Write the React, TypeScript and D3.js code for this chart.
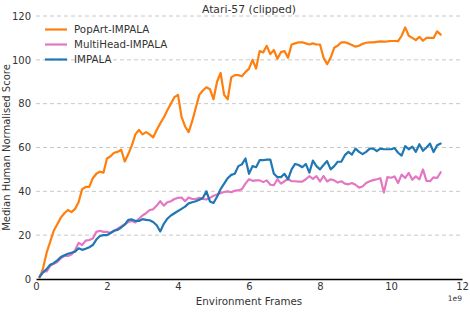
import { useEffect, useRef } from "react";
import * as d3 from "d3";

// environment frames, in units of 1e9
const frames: number[] = d3.range(1, 115).map((i) => i / 10);

const popArtScores: number[] = [
  0.5, 5, 12, 17, 22, 25, 28, 30, 31.5, 30.5,
  32, 35, 41, 42, 42, 46, 48, 49, 48.5, 55,
  56, 57.6, 58, 59, 53.6, 57, 61, 66, 68, 66,
  67, 66, 64.6, 68, 71, 73.7, 77, 80, 83, 84,
  74, 69.6, 67, 72, 78, 84, 86, 87.5, 86.6, 82,
  90, 94, 84, 82, 92, 93, 93, 92.5, 94.4, 96,
  100, 96, 104, 103.4, 106.4, 102.6, 104.5, 100.5, 103.5, 104,
  101, 107, 107.5, 108, 108, 107.5, 107, 107.5, 107, 107,
  101, 98, 101, 105.5, 106.5, 108, 108, 107.5, 106.8, 106,
  106.4, 107.3, 107.8, 108, 108, 108.2, 108.4, 108.3, 108.4, 108.6,
  108.6, 108.5, 111, 114.8, 111, 110, 109, 110.5, 108.7, 110,
  110, 110, 113, 111.5,
];

const multiHeadScores: number[] = [
  1, 3.5, 3.5, 6, 7, 7.8, 9.5, 10.5, 10.5, 11.2,
  13, 16.5, 15.5, 17.5, 17.8, 18.5, 21.5, 22, 21.5, 21.5,
  21, 22, 23, 24, 25, 26, 26.5, 25.8, 27.5, 29,
  30, 31.5, 31.8, 33.5, 35.5, 33.5, 35, 35.5, 36.5, 37,
  37.2, 35.5, 37.2, 36.5, 36.5, 37, 36.5, 36.3, 37, 38,
  38.5, 39.2, 39.7, 40, 39.6, 40.3, 40.4, 41, 43.5, 45.5,
  44.8, 45, 45, 44.2, 45, 43, 42.8, 45.5, 43.5, 44.6,
  45.7, 44.6, 44.6, 44.4, 44.4, 45.5, 46.9, 45.7, 46.9, 44.5,
  47, 44.5, 45.5, 45, 44, 44.6, 43.5, 43.2, 43.8, 43,
  41.7, 42.2, 43.8, 44.6, 45.1, 45.5, 46, 39.5, 46.5, 46.2,
  46.8, 43.8, 47.6, 46.1, 48.4, 45.3, 46.8, 45.5, 50, 44.8,
  44.6, 46.4, 46.1, 48.7,
];

const impalaScores: number[] = [
  1, 3, 4.5, 6.5, 7.2, 8.5, 10, 10.8, 11.5, 12,
  12.5, 14, 13.3, 13.8, 14.5, 15.5, 18, 19.6, 20, 20,
  21, 22, 22.4, 23.5, 24.8, 27, 27.2, 26.5, 26.5, 27.3,
  27, 26.8, 26, 24.5, 21.7, 25.2, 27.5, 29, 30, 31,
  32, 33, 34.5, 35, 35.5, 36.2, 37, 40, 35.4, 34.7,
  37.5, 41, 43.5, 46, 47.5, 48, 51.5, 52.3, 55, 48,
  51.5, 51, 54.2, 54.2, 54.5, 54.5, 48, 46.5, 46.5, 48,
  45.5, 50, 52.5, 52, 51, 52.5, 48.5, 54, 51.5, 50,
  52, 53.8, 50, 51.5, 53.5, 53.5, 56.5, 58, 56.8, 59.5,
  58, 57, 58, 59.5, 59.5, 58.3, 59.5, 59.2, 59.2, 59.2,
  59.7, 57.6, 56.3, 60.6, 59.2, 60.4, 58, 61.5, 58.5, 60,
  61.8, 57.9, 61, 61.8,
];

const seriesNames = ["PopArt-IMPALA", "MultiHead-IMPALA", "IMPALA"];
const seriesColors = ["#ff7f0e", "#e377c2", "#1f77b4"];
const xTicks = [0, 2, 4, 6, 8, 10, 12];
const yTicks = [0, 20, 40, 60, 80, 100, 120];

const WIDTH = 470;
const HEIGHT = 312;
const FONT = "DejaVu Sans, sans-serif";
const TEXT = "#333";

const App = () => {
  const svgRef = useRef<SVGSVGElement | null>(null);

  useEffect(() => {
    const margin = { top: 16, right: 8, bottom: 33, left: 36 };
    const x = d3.scaleLinear().domain([0, 12]).range([margin.left, WIDTH - margin.right]);
    const y = d3.scaleLinear().domain([0, 120]).range([HEIGHT - margin.bottom, margin.top]);

    const svg = d3.select(svgRef.current);
    svg.selectAll("*").remove();

    svg.append("rect").attr("width", WIDTH).attr("height", HEIGHT).attr("fill", "#fff");

    // dashed horizontal grid
    svg
      .append("g")
      .selectAll("line")
      .data(yTicks.filter((t) => t > 0))
      .enter()
      .append("line")
      .attr("x1", x(0))
      .attr("x2", x(12))
      .attr("y1", (d) => y(d))
      .attr("y2", (d) => y(d))
      .attr("stroke", "#c8c8c8")
      .attr("stroke-width", 1)
      .attr("stroke-dasharray", "4,3");

    const xAxis = svg
      .append("g")
      .attr("transform", `translate(0,${y(0)})`)
      .call(d3.axisBottom(x).tickValues(xTicks).tickSize(0).tickPadding(4).tickFormat(d3.format("d")));
    xAxis.select(".domain").attr("stroke", "#000").attr("stroke-width", 1.3);
    xAxis.selectAll("text").attr("font-family", FONT).attr("font-size", 10).attr("fill", TEXT);

    const yAxis = svg
      .append("g")
      .attr("transform", `translate(${x(0)},0)`)
      .call(d3.axisLeft(y).tickValues(yTicks).tickSize(0).tickPadding(5).tickFormat(d3.format("d")));
    yAxis.select(".domain").remove();
    yAxis.selectAll("text").attr("font-family", FONT).attr("font-size", 10).attr("fill", TEXT);

    const line = d3
      .line<number>()
      .x((_, i) => x(frames[i]))
      .y((d) => y(d));

    const allSeries = [popArtScores, multiHeadScores, impalaScores];
    allSeries.forEach((values, i) => {
      svg
        .append("path")
        .datum(values)
        .attr("d", line)
        .attr("fill", "none")
        .attr("stroke", seriesColors[i])
        .attr("stroke-width", 2.2)
        .attr("stroke-linejoin", "round")
        .attr("stroke-linecap", "round");
    });

    // legend
    const legend = svg.append("g").attr("transform", "translate(45,29.5)");
    seriesNames.forEach((name, i) => {
      const row = legend.append("g").attr("transform", `translate(0,${i * 15})`);
      row
        .append("line")
        .attr("x1", 0)
        .attr("x2", 22)
        .attr("stroke", seriesColors[i])
        .attr("stroke-width", 2.2);
      row
        .append("text")
        .attr("x", 29)
        .attr("dy", "0.35em")
        .attr("font-family", FONT)
        .attr("font-size", 10.3)
        .attr("fill", TEXT)
        .text(name);
    });

    svg
      .append("text")
      .attr("x", (x(0) + x(12)) / 2)
      .attr("y", 9)
      .attr("dy", "0.35em")
      .attr("text-anchor", "middle")
      .attr("font-family", FONT)
      .attr("font-size", 10.8)
      .attr("fill", TEXT)
      .text("Atari-57 (clipped)");

    svg
      .append("text")
      .attr("x", (x(0) + x(12)) / 2)
      .attr("y", 301.5)
      .attr("dy", "0.35em")
      .attr("text-anchor", "middle")
      .attr("font-family", FONT)
      .attr("font-size", 10.3)
      .attr("fill", TEXT)
      .text("Environment Frames");

    svg
      .append("text")
      .attr("x", x(12))
      .attr("y", 298.5)
      .attr("dy", "0.35em")
      .attr("text-anchor", "end")
      .attr("font-family", FONT)
      .attr("font-size", 7.5)
      .attr("fill", TEXT)
      .text("1e9");

    svg
      .append("text")
      .attr("transform", `translate(6,${(y(0) + y(120)) / 2}) rotate(-90)`)
      .attr("dy", "0.35em")
      .attr("text-anchor", "middle")
      .attr("font-family", FONT)
      .attr("font-size", 10)
      .attr("fill", TEXT)
      .text("Median Human Normalised Score");
  }, []);

  return (
    <svg
      ref={svgRef}
      width={WIDTH}
      height={HEIGHT}
      style={{ position: "absolute", left: 0, top: 0 }}
    />
  );
};

export default App;
